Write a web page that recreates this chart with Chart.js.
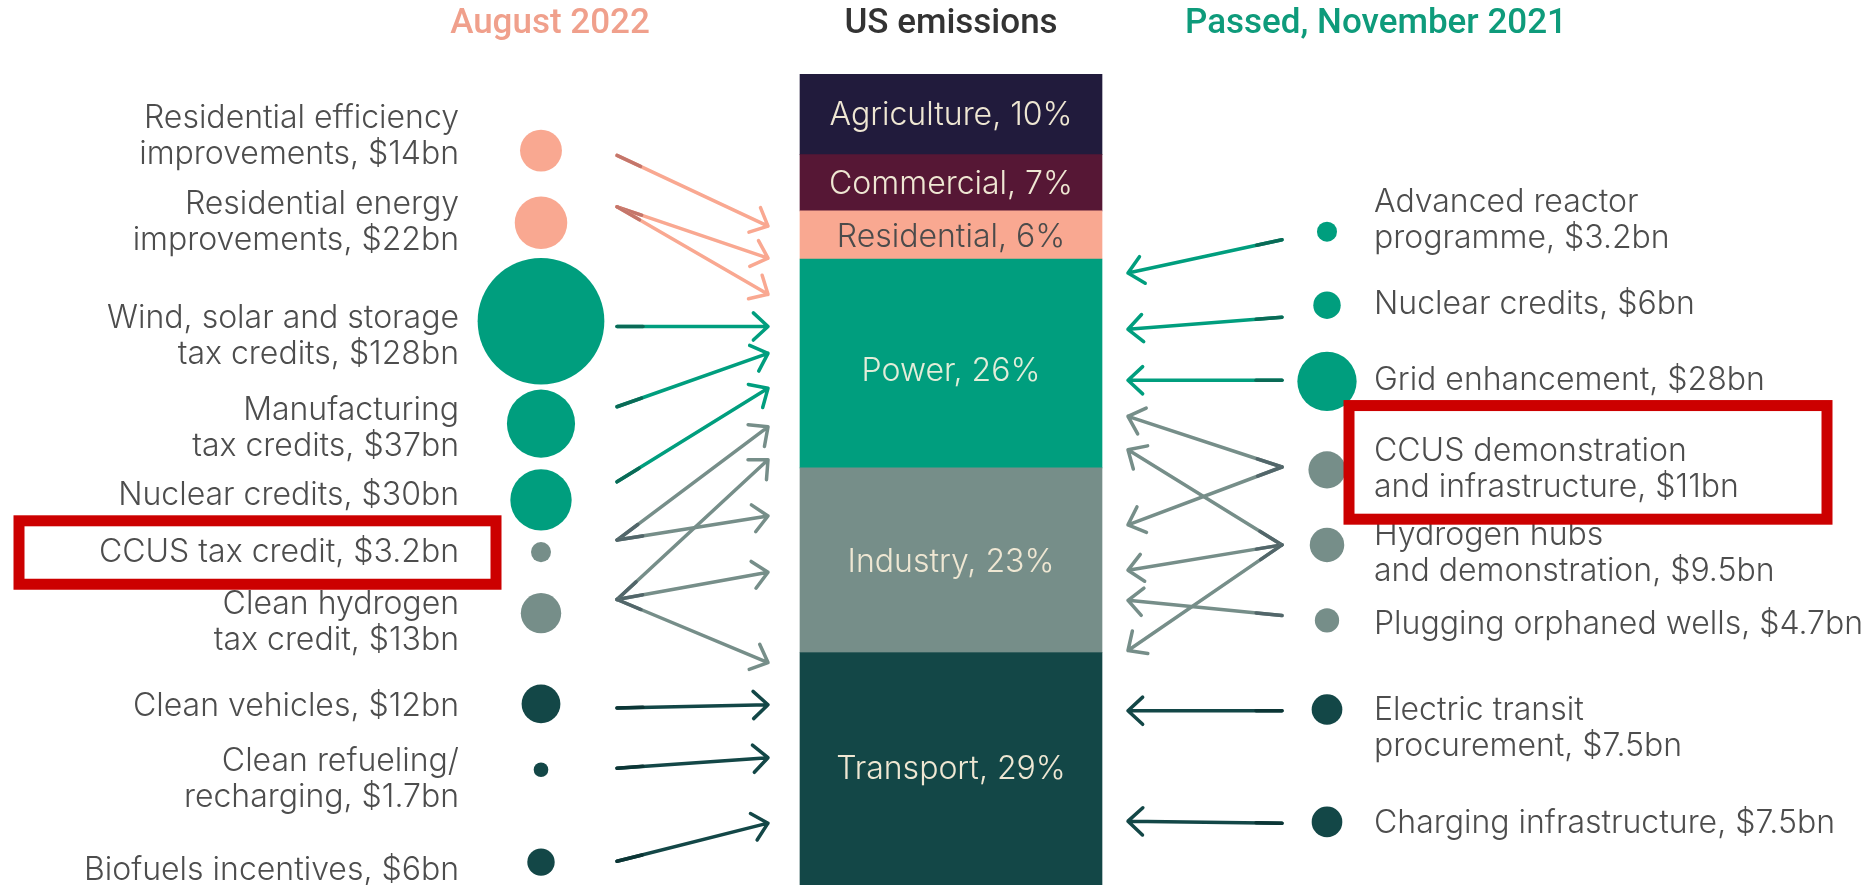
<!DOCTYPE html>
<html>
<head>
<meta charset="utf-8">
<script src="https://cdn.jsdelivr.net/npm/chart.js@4"></script>
<style>
  html, body { margin: 0; padding: 0; background: #fff; }
  #wrap { width: 1870px; height: 885px; position: relative; }
</style>
</head>
<body>
<div id="wrap"><canvas id="chart"></canvas></div>
<script>
// US emissions by sector, % of total
const sectors = ['Agriculture', 'Commercial', 'Residential', 'Power', 'Industry', 'Transport'];
const sectorShares = [10, 7, 6, 26, 23, 29];

// August 2022 measures (left column), $bn
const leftNames = [
  ['Residential efficiency', 'improvements'],
  ['Residential energy', 'improvements'],
  ['Wind, solar and storage', 'tax credits'],
  ['Manufacturing', 'tax credits'],
  ['Nuclear credits'],
  ['CCUS tax credit'],
  ['Clean hydrogen', 'tax credit'],
  ['Clean vehicles'],
  ['Clean refueling/', 'recharging'],
  ['Biofuels incentives']
];
const leftValues = [14, 22, 128, 37, 30, 3.2, 13, 12, 1.7, 6];
const leftSector = [2, 2, 3, 3, 3, 4, 4, 5, 5, 5];

// Passed, November 2021 (right column), $bn
const rightNames = [
  ['Advanced reactor', 'programme'],
  ['Nuclear credits'],
  ['Grid enhancement'],
  ['CCUS demonstration', 'and infrastructure'],
  ['Hydrogen hubs', 'and demonstration'],
  ['Plugging orphaned wells'],
  ['Electric transit', 'procurement'],
  ['Charging infrastructure']
];
const rightValues = [3.2, 6, 28, 11, 9.5, 4.7, 7.5, 7.5];
const rightSector = [3, 3, 3, 4, 4, 4, 5, 5];

// layout rows, in the same units as the emissions axis (cumulative %)
const leftRows = [9.5, 18.5, 30.75, 43.5, 53, 59.5, 67.1, 78.4, 86.6, 98.1];
const leftLabelRows = [7.7, 18.5, 32.6, 44.1, 52.4, 59.5, 68.3, 78.75, 87.75, 99.1];
const leftArrowFrom = [10.1, 16.5, 31.4, 41.4, 50.75, 58, 65.4, 78.9, 86.4, 98];
const leftArrowTo = [[18.9], [22.9, 27.4], [31.4], [34.75], [39.1], [43.9, 55], [48, 62, 73.25], [78.5], [85.1], [93.25]];

const rightRows = [19.6, 28.75, 38.25, 49.25, 58.6, 68, 79.1, 93.1];
const rightLabelRows = [18.25, 28.6, 38.1, 49.2, 59.7, 68.5, 81.4, 93.25];
const rightArrowFrom = [20.6, 30.25, 38.1, 48.9, 58.6, 67.4, 79.25, 93.25];
const rightArrowTo = [[24.75], [31.75], [38.1], [42.6, 56.1], [46.75, 61.75, 71.75], [65.5], [79.25], [93]];

const segColors = ['#211b3c', '#561735', '#f9a891', '#009e7e', '#768e89', '#134747'];
const tailColors = ['#111', '#333', '#c4766b', '#0a6a56', '#52666a', '#0b3535'];
const segText = ['#efe7d3', '#efe7d3', '#4b4b4b', '#e3edd9', '#efe7d3', '#efe7d3'];
const segTextShift = [1, 2, 2, 8, 2, 0];

const barX = 951;
const leftX = 541, rightX = 1327;
const bubbleK = 5.6;

function fmt(v) { return '$' + v + 'bn'; }

let acc = 0;
const barData = sectorShares.map(s => { const d = { x: barX, y: [acc, acc + s] }; acc += s; return d; });

function drawArrow(ctx, x1, y1, x2, y2, color, tail) {
  const ang = Math.atan2(y2 - y1, x2 - x1);
  const h = 20, a = Math.PI / 4.2;
  ctx.save();
  ctx.lineCap = 'round';
  ctx.lineJoin = 'round';
  ctx.lineWidth = 3.5;
  ctx.strokeStyle = color;
  ctx.beginPath();
  ctx.moveTo(x1, y1);
  ctx.lineTo(x2, y2);
  ctx.moveTo(x2 - h * Math.cos(ang - a), y2 - h * Math.sin(ang - a));
  ctx.lineTo(x2, y2);
  ctx.lineTo(x2 - h * Math.cos(ang + a), y2 - h * Math.sin(ang + a));
  ctx.stroke();
  ctx.strokeStyle = tail;
  ctx.beginPath();
  ctx.moveTo(x1, y1);
  ctx.lineTo(x1 + 26 * Math.cos(ang), y1 + 26 * Math.sin(ang));
  ctx.stroke();
  ctx.restore();
}

function drawLines(ctx, lines, x, yc, lh) {
  const top = yc - (lines.length - 1) * lh / 2;
  lines.forEach((t, i) => ctx.fillText(t, x, top + i * lh));
}

const overlay = {
  id: 'overlay',
  afterDatasetsDraw(chart) {
    const { ctx, scales: { x, y } } = chart;
    ctx.save();

    // sector labels inside the bar
    ctx.font = '300 32px Inter';
    ctx.textAlign = 'center';
    ctx.textBaseline = 'middle';
    chart.getDatasetMeta(0).data.forEach((el, i) => {
      ctx.fillStyle = segText[i];
      ctx.fillText(sectors[i] + ', ' + sectorShares[i] + '%', el.x, (el.y + el.base) / 2 + segTextShift[i]);
    });

    // arrows
    const barLeft = x.getPixelForValue(barX) - 151, barRight = x.getPixelForValue(barX) + 151;
    leftArrowTo.forEach((targets, i) => {
      const s = leftSector[i];
      targets.forEach(t => drawArrow(ctx, x.getPixelForValue(leftX + 76), y.getPixelForValue(leftArrowFrom[i]),
        barLeft - 32, y.getPixelForValue(t), segColors[s], tailColors[s]));
    });
    rightArrowTo.forEach((targets, i) => {
      const s = rightSector[i];
      targets.forEach(t => drawArrow(ctx, x.getPixelForValue(rightX - 45), y.getPixelForValue(rightArrowFrom[i]),
        barRight + 26, y.getPixelForValue(t), segColors[s], tailColors[s]));
    });

    // item labels
    ctx.fillStyle = '#4d4d4d';
    ctx.textAlign = 'right';
    leftNames.forEach((n, i) => {
      const lines = n.slice();
      lines[lines.length - 1] += ', ' + fmt(leftValues[i]);
      drawLines(ctx, lines, x.getPixelForValue(459), y.getPixelForValue(leftLabelRows[i]), 36);
    });
    ctx.textAlign = 'left';
    rightNames.forEach((n, i) => {
      const lines = n.slice();
      lines[lines.length - 1] += ', ' + fmt(rightValues[i]);
      drawLines(ctx, lines, x.getPixelForValue(1374), y.getPixelForValue(rightLabelRows[i]), 36);
    });

    // column headers
    ctx.font = '500 35px Roboto';
    ctx.textAlign = 'center';
    const hy = y.getPixelForValue(-6.2);
    ctx.fillStyle = '#f0a08c';
    ctx.fillText('August 2022', x.getPixelForValue(550), hy);
    ctx.fillStyle = '#333333';
    ctx.fillText('US emissions', x.getPixelForValue(951), hy);
    ctx.fillStyle = '#0e9b7b';
    ctx.fillText('Passed, November 2021', x.getPixelForValue(1376), hy);

    // highlight boxes
    ctx.strokeStyle = '#cc0000';
    ctx.lineWidth = 11;
    [[19, 496, 55.6, 63.5], [1349, 1827, 41.25, 55.4]].forEach(b => {
      const x0 = x.getPixelForValue(b[0]), x1 = x.getPixelForValue(b[1]);
      const y0 = y.getPixelForValue(b[2]), y1 = y.getPixelForValue(b[3]);
      ctx.strokeRect(x0, y0, x1 - x0, y1 - y0);
    });
    ctx.restore();
  }
};

new Chart(document.getElementById('chart'), {
  type: 'bar',
  data: {
    datasets: [
      {
        type: 'bar',
        data: barData,
        backgroundColor: segColors,
        barThickness: 302,
        borderWidth: 0
      },
      {
        type: 'bubble',
        data: leftValues.map((v, i) => ({ x: leftX, y: leftRows[i], r: bubbleK * Math.sqrt(v) })),
        backgroundColor: leftSector.map(s => segColors[s]),
        borderWidth: 0
      },
      {
        type: 'bubble',
        data: rightValues.map((v, i) => ({ x: rightX, y: rightRows[i], r: bubbleK * Math.sqrt(v) })),
        backgroundColor: rightSector.map(s => segColors[s]),
        borderWidth: 0
      }
    ]
  },
  options: {
    responsive: true,
    maintainAspectRatio: false,
    animation: false,
    events: [],
    layout: { padding: 0, autoPadding: false },
    plugins: { legend: { display: false }, tooltip: { enabled: false } },
    scales: {
      x: { type: 'linear', min: 0, max: 1870, offset: false, display: false },
      y: { type: 'linear', min: -9.25, max: 100.95, reverse: true, display: false }
    }
  },
  plugins: [overlay]
});
</script>
</body>
</html>
